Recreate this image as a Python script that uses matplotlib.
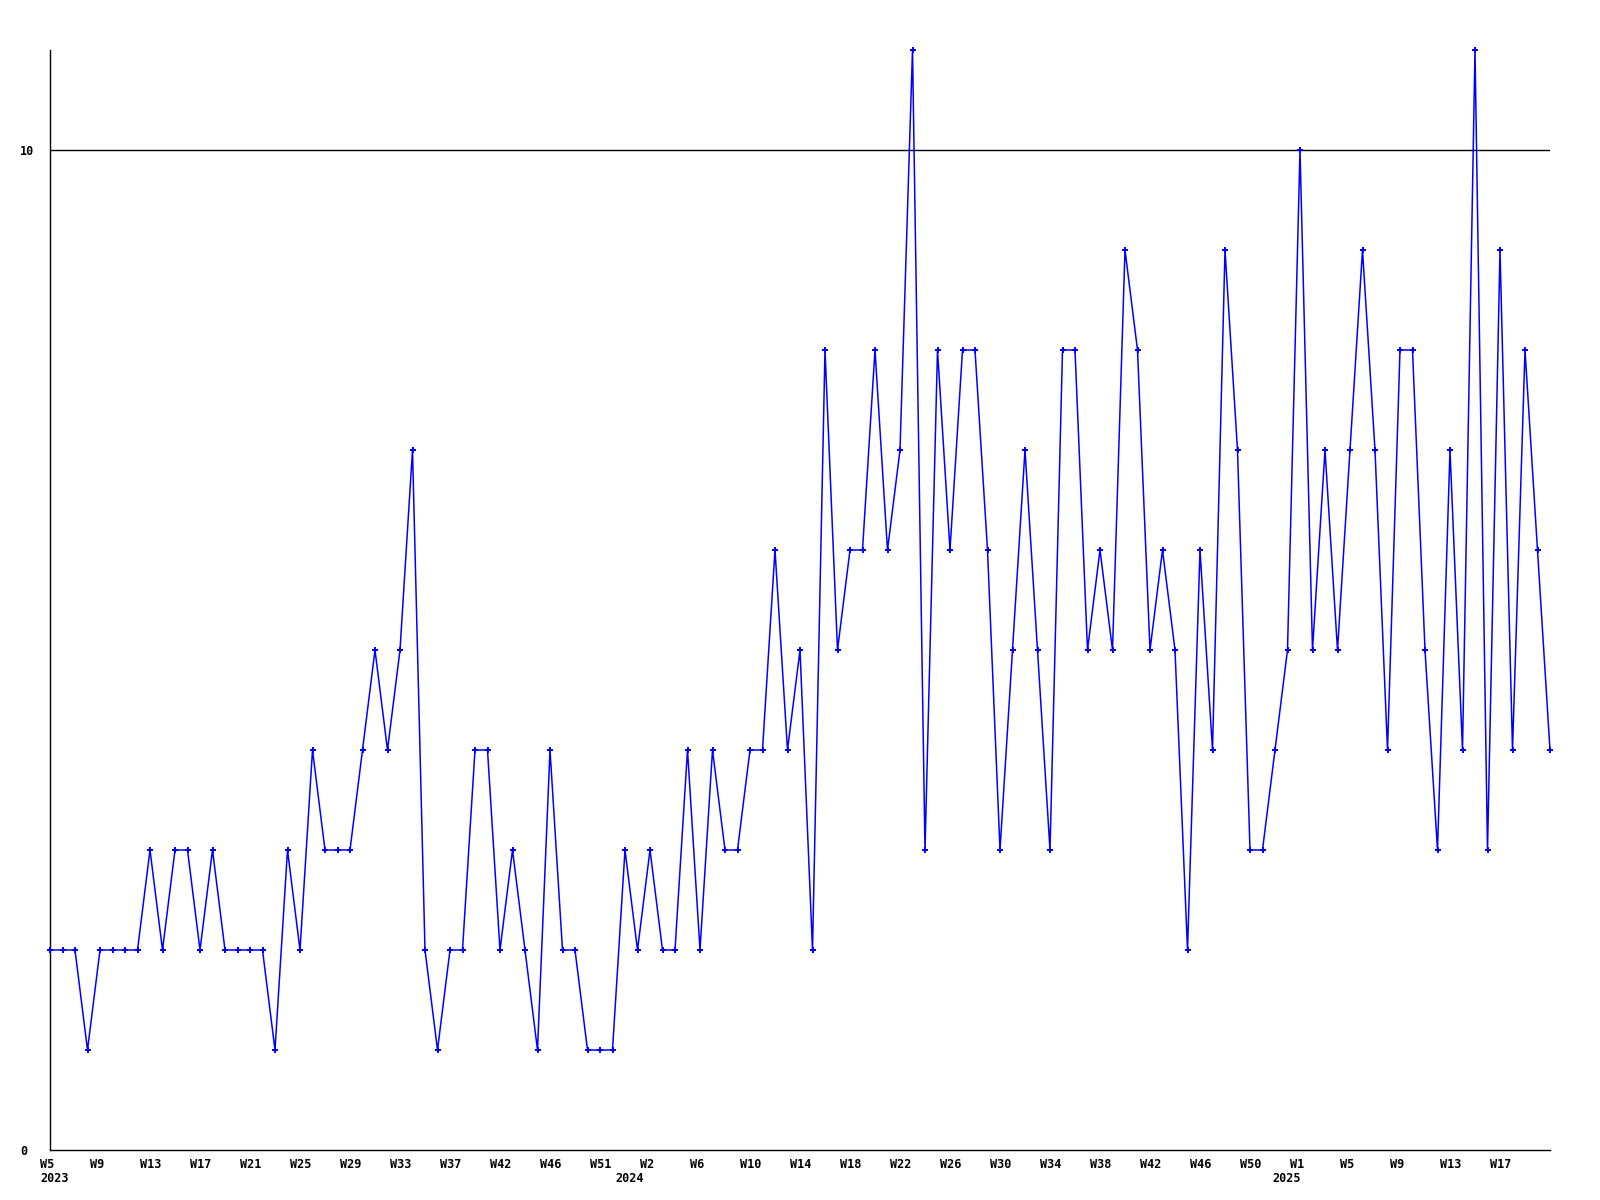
import numpy as np
import matplotlib.pyplot as plt
import matplotlib.transforms as mtransforms

# weekly counts, from 2023 W5 onwards
values = [2, 2, 2, 1, 2, 2, 2, 2, 3, 2,
          3, 3, 2, 3, 2, 2, 2, 2, 1, 3,
          2, 4, 3, 3, 3, 4, 5, 4, 5, 7,
          2, 1, 2, 2, 4, 4, 2, 3, 2, 1,
          4, 2, 2, 1, 1, 1, 3, 2, 3, 2,
          2, 4, 2, 4, 3, 3, 4, 4, 6, 4,
          5, 2, 8, 5, 6, 6, 8, 6, 7, 11,
          3, 8, 6, 8, 8, 6, 3, 5, 7, 5,
          3, 8, 8, 5, 6, 5, 9, 8, 5, 6,
          5, 2, 6, 4, 9, 7, 3, 3, 4, 5,
          10, 5, 7, 5, 7, 9, 7, 4, 8, 8,
          5, 3, 7, 4, 11, 3, 9, 4, 8, 6,
          4]

week_labels = ["W5", "W9", "W13", "W17", "W21", "W25", "W29", "W33", "W37", "W42",
               "W46", "W51", "W2", "W6", "W10", "W14", "W18", "W22", "W26", "W30",
               "W34", "W38", "W42", "W46", "W50", "W1", "W5", "W9", "W13", "W17"]
years = ["2023", "2024", "2025"]
year_x = [-0.8, 45.2, 97.8]

x = np.arange(len(values))
tick_pos = np.arange(0, len(values), 4)[:len(week_labels)]

font = {'family': 'DejaVu Sans Mono', 'weight': 'bold', 'size': 8.5}

fig = plt.figure(figsize=(16, 12), dpi=100)
ax = fig.add_axes([50 / 1600, 50 / 1200, 1500 / 1600, 1100 / 1200])

ax.axhline(10, color='black', lw=1, zorder=1)
ax.plot(x, values, color='#0000ff', lw=1.1, marker='P', markersize=4.5,
        markeredgewidth=0, zorder=3, clip_on=False)

ax.set_xlim(0, len(values) - 1)
ax.set_ylim(0, 11)
ax.spines['top'].set_visible(False)
ax.spines['right'].set_visible(False)
ax.spines['left'].set_linewidth(1)
ax.spines['bottom'].set_linewidth(1)

ax.set_yticks([0, 10])
ax.set_yticklabels(["0", "10"], fontdict=font)
ax.tick_params(axis='y', length=0, pad=21.6)
for lab in ax.get_yticklabels():
    lab.set_horizontalalignment('left')

ax.set_xticks(tick_pos)
ax.set_xticklabels(week_labels, fontdict=font)
ax.tick_params(axis='x', length=0, pad=5.5)
shift = mtransforms.ScaledTranslation(-10 / 100, 0, fig.dpi_scale_trans)
for lab in ax.get_xticklabels():
    lab.set_horizontalalignment('left')
    lab.set_transform(lab.get_transform() + shift)

year_tr = mtransforms.blended_transform_factory(ax.transData, ax.transAxes) + \
    mtransforms.ScaledTranslation(0, -22 / 100, fig.dpi_scale_trans)
for yr, xp in zip(years, year_x):
    ax.text(xp, 0, yr, ha='left', va='top', fontdict=font,
            transform=year_tr, clip_on=False)

fig.savefig("out.png", dpi=100, facecolor='white')
